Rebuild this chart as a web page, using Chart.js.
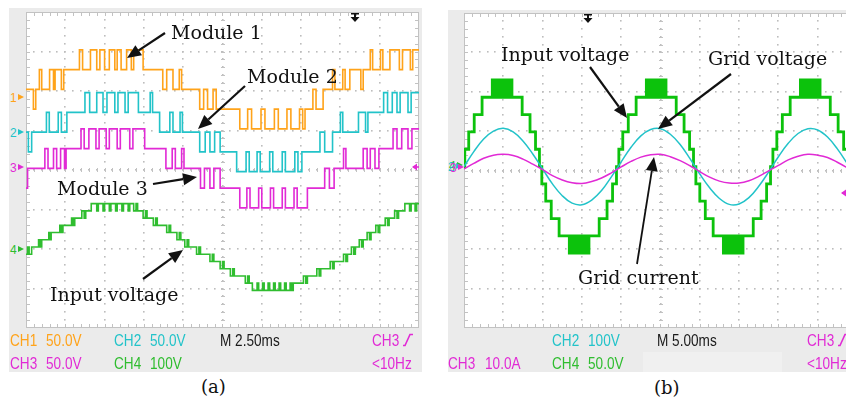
<!DOCTYPE html>
<html lang="en">
<head>
<meta charset="utf-8">
<title>Scope captures</title>
<script src="https://cdn.jsdelivr.net/npm/chart.js@4.4.1/dist/chart.umd.min.js"></script>
<style>
  html, body { margin: 0; padding: 0; }
  body { position: relative; width: 846px; height: 405px; overflow: hidden; background: #fff; }
  .frame { position: absolute; background: #ebebeb; }
  canvas.scope { position: absolute; background: #fff; }
  .t { position: absolute; line-height: 1; white-space: nowrap; }
</style>
</head>
<body>
<div class="frame" style="left:9px;top:8px;width:413px;height:364px"></div>
<div class="frame" style="left:448px;top:10px;width:398px;height:362px"></div>
<div class="frame" style="left:643px;top:352px;width:139px;height:20px;background:#f0f0f0"></div>
<canvas id="scopeA" class="scope" width="393" height="316" style="left:26px;top:12px"></canvas>
<canvas id="scopeB" class="scope" width="393" height="315" style="left:464px;top:13px"></canvas>
<script>

// (a) 2.50 ms/div, 10 div. Module outputs as [time ms, level]; one level = 25 V
const module1 = [[0,0],[0.47,-1],[0.62,0],[0.85,1],[1.0,0],[1.5,1],[1.75,0],[1.85,1],[2.25,0],[2.4,1],[3.4,2],[3.6,1],[4.1,2],[4.5,1],[4.7,2],[5.0,1],[5.3,2],[5.65,1],[5.8,2],[6.05,1],[6.4,2],[6.7,1],[6.85,2],[7.45,1],[8.7,0],[8.95,1],[9.35,0],[9.75,1],[9.9,0],[11.05,-1],[11.3,0],[11.55,-1],[11.9,0],[12.1,-1],[13.6,-2],[14.1,-1],[14.35,-2],[14.95,-1],[15.2,-2],[15.8,-1],[16.05,-2],[16.6,-1],[16.85,-2],[17.4,-1],[17.6,-2],[17.75,-1],[18.25,0],[18.45,-1],[18.9,0],[19.5,1],[19.65,0],[20.15,1],[20.3,0],[20.6,1],[21.3,0],[21.45,1],[21.9,2],[22.05,1],[22.55,2],[22.7,1],[23.15,2],[23.75,1],[23.95,2],[24.45,1],[24.6,2],[25,2]];
const module2 = [[0,0],[0.15,-1],[0.36,0],[1.3,1],[1.48,0],[2.05,1],[2.25,0],[2.6,1],[3.75,2],[4.05,1],[4.5,2],[4.9,1],[5.15,2],[5.65,1],[5.85,2],[6.3,1],[6.5,2],[7.15,1],[7.9,2],[8.05,1],[8.5,0],[9.15,1],[9.35,0],[9.8,1],[9.95,0],[11.05,-1],[11.4,0],[11.7,-1],[12.0,0],[12.35,-1],[13.4,-2],[14.0,-1],[14.2,-2],[14.7,-1],[14.9,-2],[15.5,-1],[15.7,-2],[16.3,-1],[16.5,-2],[17.1,-1],[17.3,-2],[17.55,-1],[18.7,0],[19.0,-1],[19.5,0],[20.0,1],[20.15,0],[21.15,1],[21.6,0],[21.75,1],[22.75,2],[23.0,1],[23.3,2],[23.6,1],[23.8,2],[24.3,1],[24.5,2],[25,2]];
const module3 = [[0,-1],[0.1,0],[1.2,1],[1.4,0],[1.75,1],[1.95,0],[2.2,1],[2.45,0],[2.55,1],[3.5,2],[3.7,1],[4.0,2],[4.45,1],[4.65,2],[5.1,1],[5.3,2],[5.8,1],[6.0,2],[6.6,1],[6.8,2],[7.55,1],[8.9,0],[9.3,1],[9.5,0],[9.9,1],[10.05,0],[11.1,-1],[11.35,0],[11.7,-1],[11.95,0],[12.35,-1],[13.6,-2],[14.05,-1],[14.25,-2],[14.8,-1],[15.0,-2],[15.55,-1],[15.75,-2],[16.3,-1],[16.5,-2],[17.05,-1],[17.25,-2],[17.9,-1],[19.0,0],[19.3,-1],[19.6,0],[20.2,1],[20.35,0],[21.45,1],[21.7,0],[21.9,1],[22.2,0],[22.45,1],[23.35,2],[23.6,1],[23.9,2],[24.3,1],[24.55,2],[25,2]];
// (a) input voltage staircase; one level = 18.3 V
const inputA = [[0,-1],[0.1,0],[0.2,-1],[0.36,0],[0.8,1],[0.9,0],[1.0,1],[1.45,2],[1.55,1],[1.6,2],[2.15,3],[2.25,2],[2.35,3],[2.9,4],[3.0,3],[3.1,4],[3.55,5],[3.7,4],[3.8,5],[4.15,6],[4.5,5],[4.6,6],[4.9,5],[5.0,6],[5.3,5],[5.4,6],[5.7,5],[5.8,6],[6.1,5],[6.2,6],[6.5,5],[6.6,6],[6.85,5],[7.0,6],[7.1,5],[7.45,4],[7.6,5],[7.7,4],[8.1,3],[8.25,4],[8.35,3],[8.95,2],[9.1,3],[9.2,2],[9.6,1],[9.75,2],[9.85,1],[10.1,0],[10.25,1],[10.35,0],[10.85,-1],[11.0,0],[11.1,-1],[11.7,-2],[11.85,-1],[11.95,-2],[12.35,-3],[12.5,-2],[12.6,-3],[13.0,-4],[13.15,-3],[13.25,-4],[13.95,-5],[14.1,-4],[14.2,-5],[14.4,-6],[14.7,-5],[14.8,-6],[15.05,-5],[15.15,-6],[15.4,-5],[15.5,-6],[15.75,-5],[15.85,-6],[16.1,-5],[16.2,-6],[16.45,-5],[16.55,-6],[16.8,-5],[16.9,-6],[17.0,-5],[17.65,-4],[17.8,-5],[17.9,-4],[18.5,-3],[18.65,-4],[18.75,-3],[19.35,-2],[19.5,-3],[19.6,-2],[20.2,-1],[20.35,-2],[20.45,-1],[20.7,0],[20.85,-1],[20.95,0],[21.2,1],[21.35,0],[21.45,1],[21.7,2],[21.85,1],[21.95,2],[22.25,3],[22.4,2],[22.5,3],[22.85,4],[23.0,3],[23.1,4],[23.45,5],[23.6,4],[23.7,5],[24.1,6],[24.4,5],[24.5,6],[24.75,5],[24.85,6],[25,6]];

// (b) 5.00 ms/div, 10 div. Input voltage staircase; one level = 22 V
const inputB = [[0,0],[0.1,1],[0.6,2],[1.3,3],[2.3,4],[3.6,5],[3.85,4],[4.05,5],[4.3,4],[4.5,5],[4.75,4],[4.95,5],[5.2,4],[5.4,5],[5.65,4],[5.85,5],[6.1,4],[7.4,3],[8.4,2],[9.1,1],[9.6,0],
  [9.9,-1],[10.4,-2],[11.1,-3],[12.1,-4],[13.4,-5],[13.65,-4],[13.85,-5],[14.1,-4],[14.3,-5],[14.55,-4],[14.75,-5],[15.0,-4],[15.2,-5],[15.45,-4],[15.65,-5],[15.9,-4],[17.2,-3],[18.2,-2],[18.9,-1],[19.4,0],
  [19.7,1],[20.2,2],[20.9,3],[21.9,4],[23.2,5],[23.45,4],[23.65,5],[23.9,4],[24.1,5],[24.35,4],[24.55,5],[24.8,4],[25.0,5],[25.25,4],[25.45,5],[25.7,4],[27.0,3],[28.0,2],[28.7,1],[29.2,0],
  [29.5,-1],[30.0,-2],[30.7,-3],[31.7,-4],[33.0,-5],[33.25,-4],[33.45,-5],[33.7,-4],[33.9,-5],[34.15,-4],[34.35,-5],[34.6,-4],[34.8,-5],[35.05,-4],[35.25,-5],[35.5,-4],[36.8,-3],[37.8,-2],[38.5,-1],[39.0,0],
  [39.3,1],[39.8,2],[40.5,3],[41.5,4],[42.8,5],[43.05,4],[43.25,5],[43.5,4],[43.7,5],[43.95,4],[44.15,5],[44.4,4],[44.6,5],[44.85,4],[45.05,5],[45.3,4],[46.6,3],[47.6,2],[48.3,1],[48.8,0],[49.3,-1],[50,-1]];
// (b) grid voltage (V) and grid current (A), sampled every 1.25 ms
const gridTime = [0,1.25,2.5,3.75,5,6.25,7.5,8.75,10,11.25,12.5,13.75,15,16.25,17.5,18.75,20,21.25,22.5,23.75,25,26.25,27.5,28.75,30,31.25,32.5,33.75,35,36.25,37.5,38.75,40,41.25,42.5,43.75,45,46.25,47.5,48.75,50];
const gridVoltage = [0,38,70,90,97,88,65,32,-6,-44,-74,-93,-97,-85,-61,-26,12,49,78,94,96,82,56,20,-19,-54,-81,-96,-95,-79,-50,-14,25,59,84,96,93,75,45,8,-30];
const gridCurrent = [0,1.4,2.7,3.5,3.7,3.4,2.5,1.2,-0.2,-1.7,-2.8,-3.5,-3.7,-3.2,-2.3,-1.0,0.5,1.9,3.0,3.6,3.7,3.1,2.1,0.8,-0.7,-2.1,-3.1,-3.6,-3.6,-3.0,-1.9,-0.5,0.9,2.3,3.2,3.7,3.5,2.9,1.7,0.3,-1.2];

// ---- Channel settings (position in div, volts or amps per div, size of one level) ----

const chA = {
  m1: { pos: 2.04, perDiv: 50, unit: 25 },
  m2: { pos: 0.96, perDiv: 50, unit: 25 },
  m3: { pos: 0.04, perDiv: 50, unit: 25 },
  vin: { pos: -1.95, perDiv: 100, unit: 18.3 },
};
const chB = {
  vin: { pos: 0.1, perDiv: 50, unit: 22 },
  vg: { pos: 0.1, perDiv: 100 },
  ig: { pos: 0.04, perDiv: 10 },
};

const ORANGE = '#ffa31a';
const CYAN = '#22c3c9';
const MAGENTA = '#e12ad5';
const GREEN_A = '#2fbd2f';
const GREEN_B = '#0cc20c';

// ---- Helpers ----

function steps(list, ch) {
  return list.map(([t, lvl]) => ({ x: t, y: ch.pos + lvl * ch.unit / ch.perDiv }));
}

function wave(times, values, ch) {
  return times.map((t, i) => ({ x: t, y: ch.pos + values[i] / ch.perDiv }));
}

function put(text, x, base, size, family, color, squeeze) {
  const el = document.createElement('span');
  el.className = 't';
  el.textContent = text;
  el.style.left = x + 'px';
  el.style.top = Math.round(base - 0.846 * size) + 'px';
  el.style.font = `${size}px ${family}`;
  el.style.color = color;
  if (squeeze) {
    el.style.transform = `scaleX(${squeeze})`;
    el.style.transformOrigin = '0 0';
  }
  document.body.appendChild(el);
  return el;
}

// ---- Graticule (dotted divisions, minor ticks on the border and centre lines) ----

const graticule = {
  id: 'graticule',
  beforeDatasetsDraw(chart) {
    const { ctx, chartArea: a } = chart;
    const dx = (a.right - a.left) / 10;
    const dy = (a.bottom - a.top) / 8;
    ctx.save();
    ctx.fillStyle = '#bdbdbd';
    for (let i = 1; i < 10; i++) {
      const px = Math.round(a.left + i * dx);
      for (let j = 1; j < 40; j++) ctx.fillRect(px - 1, Math.round(a.top + j * dy / 5) - 1, 1.6, 1.6);
    }
    for (let j = 1; j < 8; j++) {
      const py = Math.round(a.top + j * dy);
      for (let i = 1; i < 50; i++) ctx.fillRect(Math.round(a.left + i * dx / 5) - 1, py - 1, 1.6, 1.6);
    }
    ctx.strokeStyle = '#c2c2c2';
    ctx.lineWidth = 1;
    ctx.strokeRect(a.left + 0.5, a.top + 0.5, a.right - a.left - 1, a.bottom - a.top - 1);
    ctx.beginPath();
    const cy = Math.round(a.top + 4 * dy);
    const cx = Math.round(a.left + 5 * dx);
    for (let i = 1; i < 50; i++) {
      const px = Math.round(a.left + i * dx / 5) + 0.5;
      ctx.moveTo(px, a.top); ctx.lineTo(px, a.top + 4);
      ctx.moveTo(px, a.bottom); ctx.lineTo(px, a.bottom - 4);
      ctx.moveTo(px, cy - 2); ctx.lineTo(px, cy + 2);
    }
    for (let j = 1; j < 40; j++) {
      const py = Math.round(a.top + j * dy / 5) + 0.5;
      ctx.moveTo(a.left, py); ctx.lineTo(a.left + 4, py);
      ctx.moveTo(a.right, py); ctx.lineTo(a.right - 4, py);
      ctx.moveTo(cx - 2, py); ctx.lineTo(cx + 2, py);
    }
    ctx.stroke();
    ctx.restore();
  },
};

// ---- Call-out arrows and scope markers ----

function arrow(ctx, x1, y1, x2, y2, w) {
  const ang = Math.atan2(y2 - y1, x2 - x1);
  const L = 14, H = 6;
  const bx = x2 - L * Math.cos(ang), by = y2 - L * Math.sin(ang);
  ctx.lineWidth = w;
  ctx.beginPath(); ctx.moveTo(x1, y1); ctx.lineTo(bx, by); ctx.stroke();
  ctx.beginPath();
  ctx.moveTo(x2, y2);
  ctx.lineTo(bx + H * Math.sin(ang), by - H * Math.cos(ang));
  ctx.lineTo(bx - H * Math.sin(ang), by + H * Math.cos(ang));
  ctx.closePath(); ctx.fill();
}

function notes(cfg) {
  return {
    id: 'notes',
    afterDatasetsDraw(chart) {
      const ctx = chart.ctx;
      const [ox, oy] = cfg.origin;
      ctx.save();
      ctx.translate(-ox, -oy);
      ctx.strokeStyle = '#111'; ctx.fillStyle = '#111';
      cfg.arrows.forEach(([x1, y1, x2, y2, w]) => arrow(ctx, x1, y1, x2, y2, w));
      // trigger position marker at the top edge
      const tx = cfg.trigger;
      ctx.fillRect(tx - 1, oy + 1, 2, 5);
      ctx.fillRect(tx - 4, oy + 1, 8, 1.5);
      ctx.beginPath(); ctx.moveTo(tx - 4.5, oy + 5); ctx.lineTo(tx + 4.5, oy + 5); ctx.lineTo(tx, oy + 10); ctx.closePath(); ctx.fill();
      // trigger level marker on the right edge
      const [lx, ly] = cfg.level;
      ctx.strokeStyle = MAGENTA; ctx.fillStyle = MAGENTA; ctx.lineWidth = 1.5;
      ctx.beginPath(); ctx.moveTo(lx, ly); ctx.lineTo(lx + 8, ly); ctx.stroke();
      ctx.beginPath(); ctx.moveTo(lx - 1, ly); ctx.lineTo(lx + 4, ly - 3.5); ctx.lineTo(lx + 4, ly + 3.5); ctx.closePath(); ctx.fill();
      ctx.restore();
    },
  };
}

// ---- Chart factory ----

function scope(id, span, datasets, extras) {
  return new Chart(document.getElementById(id), {
    type: 'line',
    data: { datasets },
    options: {
      responsive: false,
      animation: false,
      events: [],
      parsing: false,
      layout: { padding: 0 },
      plugins: { legend: { display: false }, tooltip: { enabled: false } },
      elements: { point: { radius: 0 } },
      scales: {
        x: { type: 'linear', min: 0, max: span, display: false },
        y: { type: 'linear', min: -4, max: 4, display: false },
      },
    },
    plugins: [graticule, extras],
  });
}

const stepLine = (data, color, width, order) => ({ data, borderColor: color, borderWidth: width, stepped: true, order });
const smoothLine = (data, color, width, order) => ({ data, borderColor: color, borderWidth: width, tension: 0.4, order });

// ---- (a) module outputs and input voltage ----

scope('scopeA', 25, [
  stepLine(steps(module1, chA.m1), ORANGE, 1.6, 1),
  stepLine(steps(module2, chA.m2), CYAN, 1.6, 2),
  stepLine(steps(module3, chA.m3), MAGENTA, 1.6, 3),
  stepLine(steps(inputA, chA.vin), GREEN_A, 1.6, 4),
], notes({
  origin: [26, 12],
  arrows: [[165, 33, 127, 58, 2.2], [245, 86, 198, 129, 2.2], [153, 184, 197, 177, 2.2], [143, 279, 183, 250, 2.2]],
  trigger: 355,
  level: [413, 167],
}));

// ---- (b) input voltage, grid voltage and grid current ----

scope('scopeB', 50, [
  smoothLine(wave(gridTime, gridCurrent, chB.ig), MAGENTA, 1.5, 1),
  smoothLine(wave(gridTime, gridVoltage, chB.vg), CYAN, 1.5, 2),
  stepLine(steps(inputB, chB.vin), GREEN_B, 2.8, 3),
], notes({
  origin: [464, 13],
  arrows: [[590, 67, 627, 118, 2.2], [731, 74, 658, 129, 2.2], [637, 264, 654, 157, 1.8]],
  trigger: 588,
  level: [842, 193],
}));

// ---- Text: call-outs, scope read-outs, channel markers, captions ----

const SERIF = "'DejaVu Serif', serif";
const SCOPE = "'Liberation Sans', Arial, sans-serif";

[['Module 1', 171, 37], ['Module 2', 247, 81], ['Module 3', 57, 193], ['Input voltage', 50, 299],
 ['Input voltage', 501, 59], ['Grid voltage', 708, 63], ['Grid current', 578, 282]]
  .forEach(([s, x, b]) => put(s, x, b, 19, SERIF, '#111'));

put('(a)', 201, 391, 18, SERIF, '#111');
put('(b)', 654, 392, 18, SERIF, '#111');

const readouts = [
  ['CH1', 10, 345, ORANGE], ['50.0V', 46, 345, ORANGE], ['CH2', 114, 345, CYAN], ['50.0V', 150, 345, CYAN],
  ['M 2.50ms', 220, 345, '#1a1a1a'], ['CH3', 372, 345, MAGENTA],
  ['CH3', 10, 368, MAGENTA], ['50.0V', 46, 368, MAGENTA], ['CH4', 114, 368, GREEN_A], ['100V', 150, 368, GREEN_A],
  ['<10Hz', 372, 368, MAGENTA],
  ['CH2', 552, 345, CYAN], ['100V', 588, 345, CYAN], ['M 5.00ms', 657, 345, '#1a1a1a'], ['CH3', 807, 345, MAGENTA],
  ['CH3', 448, 368, MAGENTA], ['10.0A', 485, 368, MAGENTA], ['CH4', 552, 368, GREEN_A], ['50.0V', 588, 368, GREEN_A],
  ['<10Hz', 807, 368, MAGENTA],
];
readouts.forEach(([s, x, b, c]) => put(s, x, b, 17, SCOPE, c, 0.8));

// rising-edge trigger symbol after "CH3"
[[402, 333], [837, 333]].forEach(([x, y]) => {
  const svg = document.createElementNS('http://www.w3.org/2000/svg', 'svg');
  svg.setAttribute('width', 12); svg.setAttribute('height', 14);
  svg.style.cssText = `position:absolute;left:${x}px;top:${y}px`;
  svg.innerHTML = `<path d="M1 12.5 L3 12.5 L8 1.5 L11 1.5" fill="none" stroke="${MAGENTA}" stroke-width="1.6"/>`;
  document.body.appendChild(svg);
});

// channel position markers in the left margin
function marker(digit, x, y, color) {
  put(digit, x, y + 4.5, 12, SCOPE, color);
  const tri = document.createElement('span');
  tri.style.cssText = `position:absolute;left:${x + 8}px;top:${y - 3}px;width:0;height:0;` +
    `border-left:6px solid ${color};border-top:3px solid transparent;border-bottom:3px solid transparent`;
  document.body.appendChild(tri);
}
marker('1', 10, 97, ORANGE);
marker('2', 10, 132, CYAN);
marker('3', 10, 167, MAGENTA);
marker('4', 10, 249, GREEN_A);
marker('4', 449, 165, GREEN_A);
marker('2', 448, 166, CYAN);
marker('3', 450, 167, MAGENTA);
</script>
</body>
</html>
